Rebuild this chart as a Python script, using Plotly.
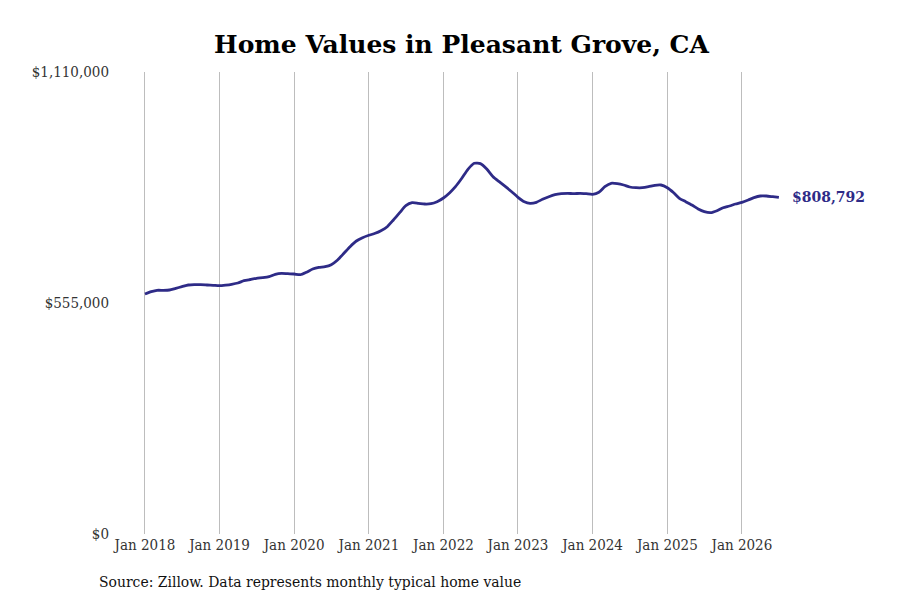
import plotly.graph_objects as go

months = [f"{y}-{m:02d}-01" for y in range(2018, 2027) for m in range(1, 13)][:103]

values = [
    # 2018
    576600, 582150, 585510, 585500, 586230, 590320, 594160, 598250, 598970, 598970, 598250, 597530,
    # 2019
    596570, 598000, 599930, 603050, 608580, 611460, 614340, 615790, 618190, 623950, 626360, 625400,
    # 2020
    624680, 623000, 628760, 636690, 640770, 642210, 647020, 658310, 674410, 690270, 703960, 711890,
    # 2021
    717650, 722460, 728710, 738320, 754420, 771960, 788770, 795980, 794540, 792860, 793580, 798380,
    # 2022
    807270, 820010, 834420, 854600, 876230, 890640, 889920, 876950, 858450, 846440, 834420, 822410,
    # 2023
    808960, 798380, 794540, 796940, 804150, 810400, 815200, 817600, 818570, 817600, 818570, 817600,
    # 2024
    816160, 820970, 834420, 842590, 841630, 838510, 833700, 832020, 832020, 834420, 837790, 838510,
    # 2025
    832020, 820010, 806550, 798380, 790460, 780850, 774360, 771960, 776760, 783970, 788050, 792860,
    # 2026
    796940, 802470, 808000, 812080, 812080, 810400, 808792,
]

tick_dates = [f"{y}-01-01" for y in range(2018, 2027)]
tick_labels = [f"Jan {y}" for y in range(2018, 2027)]
y_ticks = [0, 555000, 1110000]
y_tick_labels = ["$0", "$555,000", "$1,110,000"]

line_color = "#2e2b87"
serif = "DejaVu Serif Condensed, DejaVu Serif, serif"

fig = go.Figure()
fig.add_trace(go.Scatter(
    x=months, y=values, mode="lines",
    line=dict(color=line_color, width=2.8, shape="spline", smoothing=0.6),
    hoverinfo="skip", showlegend=False,
))

fig.add_annotation(
    x=months[-1], y=values[-1], xref="x", yref="y",
    text=f"${values[-1]:,}", showarrow=False,
    xanchor="left", xshift=11,
    font=dict(family="DejaVu Serif, serif", size=14, color=line_color, weight="bold"),
)

fig.add_annotation(
    x=(97 - 110) / 760, y=(534 - 582) / 462, xref="paper", yref="paper",
    text="Source: Zillow. Data represents monthly typical home value",
    showarrow=False, xanchor="left", yanchor="middle",
    font=dict(family=serif, size=15.5, color="#111111"),
)

fig.update_layout(
    width=900, height=600,
    paper_bgcolor="white", plot_bgcolor="white",
    margin=dict(l=102, r=38, t=64, b=74),
    title=dict(
        text="<b>Home Values in Pleasant Grove, CA</b>",
        x=(461.5 - 8) / 900, xref="container", xanchor="center",
        y=1 - (44 - 8) / 600, yref="container", yanchor="middle",
        font=dict(family="DejaVu Serif, serif", size=25, color="#000000"),
    ),
    xaxis=dict(
        range=["2017-07-14", "2027-09-20"],
        tickvals=tick_dates, ticktext=tick_labels,
        showgrid=True, gridcolor="#bdbdbd", gridwidth=1,
        showline=False, zeroline=False, ticks="",
        tickfont=dict(family=serif, size=15, color="#333333"),
    ),
    yaxis=dict(
        range=[0, 1110000],
        tickvals=y_ticks, ticktext=y_tick_labels,
        showgrid=False, showline=False, zeroline=False, ticks="",
        tickfont=dict(family=serif, size=15, color="#333333"),
    ),
)

fig.write_html("out.html")
